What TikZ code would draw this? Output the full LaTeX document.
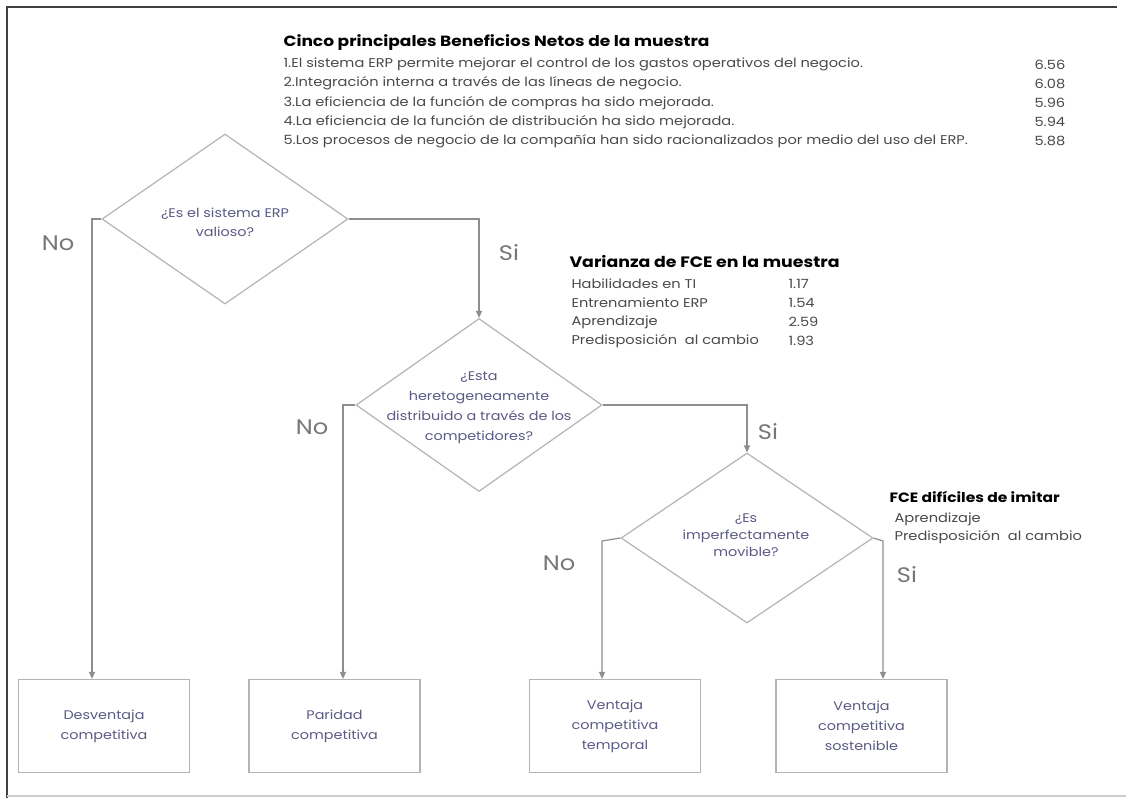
\documentclass[tikz,border=0pt]{standalone}
\usepackage{fontspec}
\setmainfont{Poppins}[FakeStretch=1.15]
\usetikzlibrary{shapes.geometric,arrows.meta}
\definecolor{qtext}{HTML}{5A5A85}
\definecolor{lbl}{HTML}{777777}
\definecolor{body}{HTML}{4A4A4A}
\definecolor{conn}{HTML}{8E8E8E}
\definecolor{shp}{HTML}{B4B4B4}
\tikzset{
  decision/.style={diamond, draw=shp, line width=1.2pt, inner sep=0pt},
  qlabel/.style={align=center, text=qtext, inner sep=0pt},
  outcome/.style={rectangle, draw=shp, line width=1.2pt, inner sep=0pt, align=center,
    text=qtext, font=\fontsize{12.5}{20}\selectfont, minimum width=171pt, minimum height=93pt},
  conn/.style={draw=conn, line width=1.2pt},
  arr/.style={conn, -{Triangle[length=7pt,width=6pt]}},
  yn/.style={text=lbl, font=\fontsize{21}{23}\selectfont},
  head/.style={anchor=west, text=black, font=\fontsize{14.8}{17}\selectfont\bfseries},
  item/.style={anchor=west, text=body, font=\fontsize{12.7}{14}\selectfont},
  sub/.style={anchor=west, text=body, font=\fontsize{12.7}{14}\selectfont},
}
\begin{document}
\begin{tikzpicture}[x=1pt,y=-1pt]
\useasboundingbox (0,0) rectangle (1126,798);
\fill[white] (0,0) rectangle (1126,798);
% frame
\draw[line width=2pt, draw=black!75] (7,798) -- (7,7) -- (1117,7);
\draw[line width=1.5pt, draw=black!20] (7,796) -- (1126,796);

% top block
\node[head] (t1) at (280,43) {Cinco principales Beneficios Netos de la muestra};
\node[item] (i1) at (280,64.5) {1.El sistema ERP permite mejorar el control de los gastos operativos del negocio.};
\node[item] (i2) at (280,83.5) {2.Integración interna a través de las líneas de negocio.};
\node[item] (i3) at (280,103) {3.La eficiencia de la función de compras ha sido mejorada.};
\node[item] (i4) at (280,122) {4.La eficiencia de la función de distribución ha sido mejorada.};
\node[item] (i5) at (280,141) {5.Los procesos de negocio de la compañía han sido racionalizados por medio del uso del ERP.};
\node[item] (n1) at (1031,64.5) {6.56};
\node[item] (n2) at (1031,83.5) {6.08};
\node[item] (n3) at (1031,103) {5.96};
\node[item] (n4) at (1031,122) {5.94};
\node[item] (n5) at (1031,141) {5.88};

% varianza block
\node[head, font=\fontsize{15.1}{17}\selectfont\bfseries] (t2) at (566,262) {Varianza de FCE en la muestra};
\node[sub] (v1) at (568,284) {Habilidades en TI};
\node[sub] (v2) at (568,303) {Entrenamiento ERP};
\node[sub] (v3) at (568,322) {Aprendizaje};
\node[sub] (v4) at (568,341) {Predisposición\ \ al cambio};
\node[sub] (w1) at (785,284) {1.17};
\node[sub] (w2) at (785,303) {1.54};
\node[sub] (w3) at (785,322) {2.59};
\node[sub] (w4) at (785,341) {1.93};

% FCE block
\node[head, font=\fontsize{13.5}{16}\selectfont\bfseries] (t3) at (886,497) {FCE difíciles de imitar};
\node[sub] (f1) at (891,519) {Aprendizaje};
\node[sub] (f2) at (891,537) {Predisposición\ \ al cambio};

% decisions
\node[decision, minimum width=246pt, minimum height=170pt] (d1) at (225,219) {};
\node[qlabel, font=\fontsize{12.5}{19}\selectfont] (q1) at (225,222) {¿Es el sistema ERP\\valioso?};
\node[decision, minimum width=246pt, minimum height=173pt] (d2) at (479,405) {};
\node[qlabel, font=\fontsize{12.5}{20}\selectfont] (q2) at (479,408) {¿Esta\\heretogeneamente\\distribuido a través de los\\competidores?};
\node[decision, minimum width=252pt, minimum height=170pt] (d3) at (747,538) {};
\node[qlabel, font=\fontsize{12.5}{17}\selectfont] (q3) at (746,535) {¿Es\\imperfectamente\\movible?};

% outcomes
\node[outcome] (b1) at (104,726) {Desventaja\\competitiva};
\node[outcome] (b2) at (334.5,726) {Paridad\\competitiva};
\node[outcome] (b3) at (615,726) {Ventaja\\competitiva\\temporal};
\node[outcome] (b4) at (861.5,726) {Ventaja\\competitiva\\sostenible};

% connectors
\coordinate (c1) at (92,219);
\coordinate (c2) at (343,405);
\coordinate (c3) at (602,541);
\coordinate (c4) at (883,541);
\draw[arr] (d1.west) -- (c1) -- (c1 |- b1.north);
\draw[arr] (d1.east) -| (d2.north);
\draw[arr] (d2.west) -- (c2) -- (c2 |- b2.north);
\draw[arr] (d2.east) -| (d3.north);
\draw[arr] (d3.west) -- (c3) -- (c3 |- b3.north);
\draw[arr] (d3.east) -- (c4) -- (c4 |- b4.north);

% labels
\node[yn] (l1) at (58,243) {No};
\node[yn] (l2) at (509,253) {Si};
\node[yn] (l3) at (312,427) {No};
\node[yn] (l4) at (768,432) {Si};
\node[yn] (l5) at (559,563) {No};
\node[yn] (l6) at (907,575) {Si};
\end{tikzpicture}
\end{document}
